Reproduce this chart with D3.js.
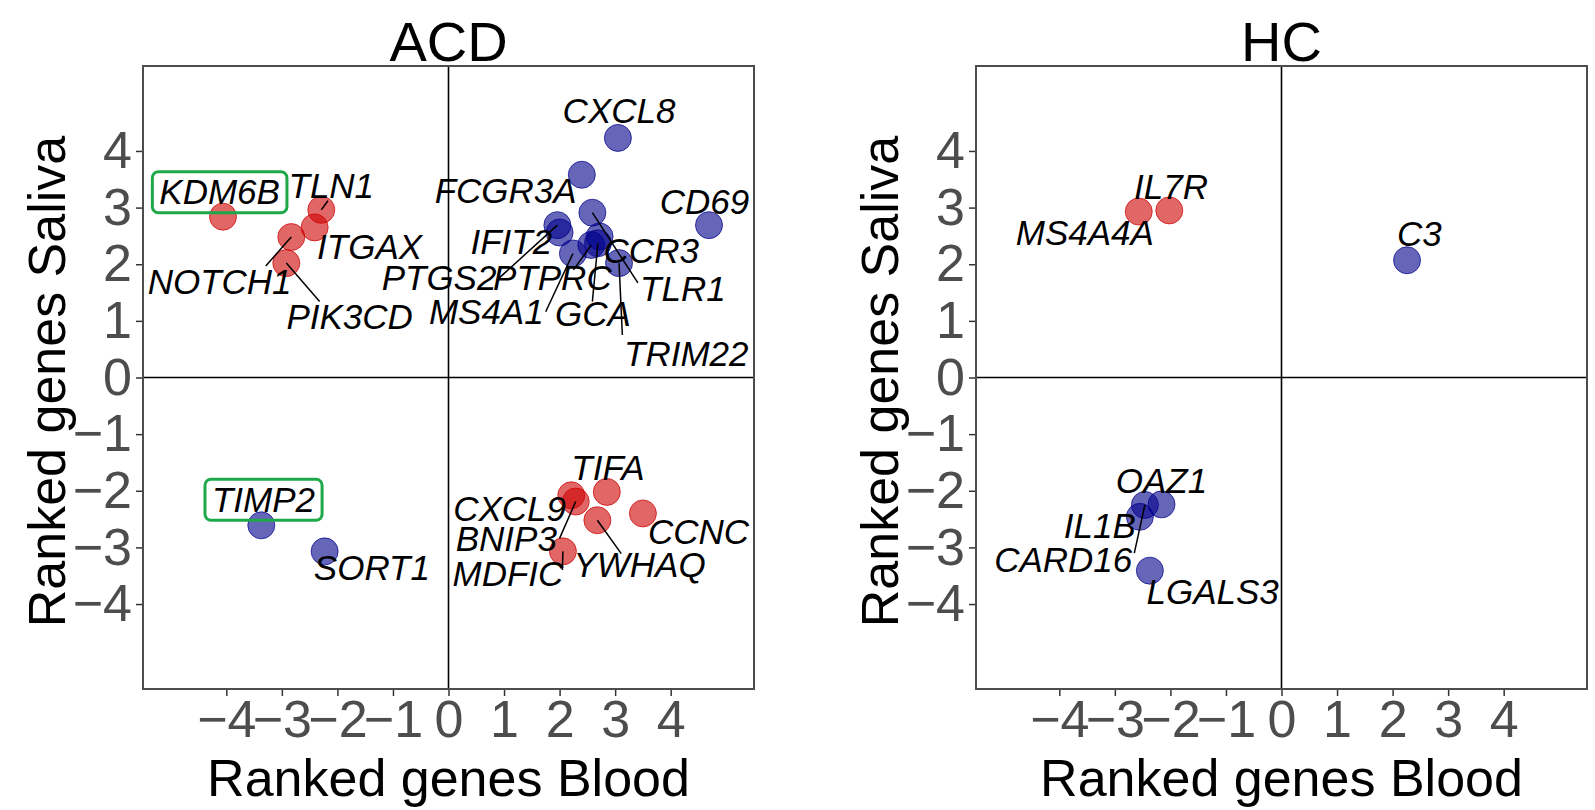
<!DOCTYPE html>
<html>
<head>
<meta charset="utf-8">
<script src="https://cdn.jsdelivr.net/npm/d3@7"></script>
<style>
  body { margin: 0; background: #fff; }
  svg { display: block; font-family: "Liberation Sans", Arial, Helvetica, sans-serif; }
</style>
</head>
<body>
<svg id="chart" width="1595" height="810"></svg>
<script>
// ACD panel: ranked genes (blood vs saliva)
var acdGenes  = ["KDM6B","TLN1","ITGAX","NOTCH1","PIK3CD",
                 "CXCL8","FCGR3A","CD69","IFIT2","PTGS2","PTPRC","MS4A1","GCA","CCR3","TLR1","TRIM22",
                 "TIMP2","SORT1",
                 "TIFA","CXCL9","BNIP3","MDFIC","YWHAQ","CCNC"];
var acdBlood  = [-4.06,-2.29,-2.41,-2.83,-2.92,
                  3.05, 2.40, 4.69, 2.00, 1.96, 2.57, 2.24, 2.69, 2.72, 2.59, 3.07,
                 -3.37,-2.23,
                  2.85, 2.21, 2.29, 2.06, 2.68, 3.50];
var acdSaliva = [ 2.84, 2.96, 2.65, 2.48, 2.02,
                  4.23, 3.58, 2.69, 2.56, 2.69, 2.34, 2.19, 2.37, 2.49, 2.91, 2.02,
                 -2.61,-3.07,
                 -2.02,-2.08,-2.19,-3.07,-2.52,-2.40];
// label positions (ggrepel output, data units)
var acdLabX   = [-4.12,-2.11,-1.42,-4.12,-1.78,
                  3.07, 1.03, 4.61, 1.13,-0.17, 1.87, 0.68, 2.60, 3.65, 4.22, 4.28,
                 -3.33,-1.38,
                  2.87, 1.10, 1.04, 1.07, 3.44, 4.50];
var acdLabY   = [ 3.28, 3.40, 2.31, 1.69, 1.07,
                  4.72, 3.31, 3.11, 2.40, 1.76, 1.76, 1.16, 1.13, 2.25, 1.58, 0.43,
                 -2.15,-3.35,
                 -1.58,-2.31,-2.84,-3.46,-3.30,-2.72];
// leader segments: gene and where the segment meets its label (data units)
var acdSegGene = ["TLN1","NOTCH1","PIK3CD","PTGS2","PTPRC","MS4A1","GCA","TLR1","TRIM22","BNIP3","MDFIC","YWHAQ"];
var acdSegX    = [-2.17,-3.29,-2.32, 0.87, 2.25, 1.75, 2.59, 3.41, 3.13, 2.00, 2.05, 3.11];
var acdSegY    = [ 3.12, 1.97, 1.34, 1.72, 1.90, 1.16, 1.34, 1.67, 0.75,-2.84,-3.40,-3.11];
var acdBoxed   = ["KDM6B","TIMP2"];

// HC panel
var hcGenes  = ["MS4A4A","IL7R","C3","OAZ1","CARD16","IL1B","LGALS3"];
var hcBlood  = [-2.57,-2.02, 2.26,-2.16,-2.46,-2.55,-2.37];
var hcSaliva = [ 2.93, 2.95, 2.07,-2.24,-2.25,-2.46,-3.41];
var hcLabX   = [-3.54,-1.99, 2.48,-2.16,-3.93,-3.27,-1.24];
var hcLabY   = [ 2.56, 3.38, 2.55,-1.81,-3.22,-2.62,-3.77];
var hcSegGene = ["CARD16"];
var hcSegX    = [-2.65];
var hcSegY    = [-3.10];
var hcBoxed   = [];

var tickValues = [-4,-3,-2,-1,0,1,2,3,4];
var panelTitles = ["ACD","HC"];
var xTitle = "Ranked genes Blood";
var yTitle = "Ranked genes Saliva";

var svg = d3.select("#chart");
var plotTop = 66, plotBottom = 689;
var panels = [
  {title: panelTitles[0], left: 143, right: 754, genes: acdGenes, xs: acdBlood, ys: acdSaliva,
   lx: acdLabX, ly: acdLabY, segGene: acdSegGene, segX: acdSegX, segY: acdSegY, boxed: acdBoxed},
  {title: panelTitles[1], left: 976, right: 1587, genes: hcGenes, xs: hcBlood, ys: hcSaliva,
   lx: hcLabX, ly: hcLabY, segGene: hcSegGene, segX: hcSegX, segY: hcSegY, boxed: hcBoxed}
];

var red = "#cd0000", blue = "#00008b";

panels.forEach(function(p) {
  var x = d3.scaleLinear().domain([-5.5, 5.5]).range([p.left, p.right]);
  var y = d3.scaleLinear().domain([-5.5, 5.5]).range([plotBottom, plotTop]);
  var g = svg.append("g");

  // zero lines
  g.append("line").attr("x1", x(0)).attr("x2", x(0)).attr("y1", plotTop).attr("y2", plotBottom)
    .attr("stroke", "#000").attr("stroke-width", 1.6);
  g.append("line").attr("x1", p.left).attr("x2", p.right).attr("y1", y(0)).attr("y2", y(0))
    .attr("stroke", "#000").attr("stroke-width", 1.6);

  // axes
  var fmt = d3.format("d");
  var ax = g.append("g").attr("transform", "translate(0," + plotBottom + ")")
    .call(d3.axisBottom(x).tickValues(tickValues).tickSize(7).tickPadding(4).tickFormat(fmt));
  var ay = g.append("g").attr("transform", "translate(" + p.left + ",0)")
    .call(d3.axisLeft(y).tickValues(tickValues).tickSize(7).tickPadding(4).tickFormat(fmt));
  [ax, ay].forEach(function(a) {
    a.select(".domain").remove();
    a.selectAll(".tick line").attr("stroke", "#333").attr("stroke-width", 1.5);
    a.selectAll(".tick text").attr("fill", "#4d4d4d").style("font-size", "52px")
      .style("font-family", "'Liberation Sans', Arial, sans-serif");
  });

  // panel border
  g.append("rect").attr("x", p.left).attr("y", plotTop)
    .attr("width", p.right - p.left).attr("height", plotBottom - plotTop)
    .attr("fill", "none").attr("stroke", "#4d4d4d").attr("stroke-width", 2);

  // points
  var data = p.genes.map(function(name, i) {
    return {name: name, x: p.xs[i], y: p.ys[i], lx: p.lx[i], ly: p.ly[i]};
  });
  g.selectAll("circle.pt").data(data).enter().append("circle")
    .attr("class", "pt")
    .attr("cx", function(d) { return x(d.x); })
    .attr("cy", function(d) { return y(d.y); })
    .attr("r", 13.5)
    .attr("fill", function(d) { return d.x * d.y < 0 ? red : blue; })
    .attr("fill-opacity", 0.6)
    .attr("stroke", function(d) { return d.x * d.y < 0 ? red : blue; })
    .attr("stroke-opacity", 0.7)
    .attr("stroke-width", 1);

  // leader segments
  p.segGene.forEach(function(name, i) {
    var d = data.find(function(e) { return e.name === name; });
    g.append("line")
      .attr("x1", x(d.x)).attr("y1", y(d.y))
      .attr("x2", x(p.segX[i])).attr("y2", y(p.segY[i]))
      .attr("stroke", "#000").attr("stroke-width", 1.5);
  });

  // labels
  var labels = g.selectAll("text.lab").data(data).enter().append("text")
    .attr("class", "lab")
    .attr("x", function(d) { return x(d.lx); })
    .attr("y", function(d) { return y(d.ly); })
    .attr("text-anchor", "middle")
    .attr("dy", "0.36em")
    .style("font-size", "35px")
    .style("font-style", "italic")
    .attr("fill", "#000")
    .text(function(d) { return d.name; });

  // highlighted labels
  labels.filter(function(d) { return p.boxed.indexOf(d.name) >= 0; }).each(function(d) {
    var w = this.getComputedTextLength(), pad = 7;
    g.append("rect")
      .attr("x", x(d.lx) - w / 2 - pad)
      .attr("y", y(d.ly) - 20)
      .attr("width", w + 2 * pad)
      .attr("height", 41)
      .attr("rx", 6)
      .attr("fill", "none")
      .attr("stroke", "#1fa84a")
      .attr("stroke-width", 3);
  });

  // titles
  svg.append("text").attr("x", x(0)).attr("y", 61)
    .attr("text-anchor", "middle").style("font-size", "56px").text(p.title);
  svg.append("text").attr("x", x(0)).attr("y", 796)
    .attr("text-anchor", "middle").style("font-size", "52px").text(xTitle);
  svg.append("text")
    .attr("transform", "translate(" + (p.left - 78) + "," + (y(0) + 4) + ") rotate(-90)")
    .attr("text-anchor", "middle").style("font-size", "52px").text(yTitle);
});
</script>
</body>
</html>
